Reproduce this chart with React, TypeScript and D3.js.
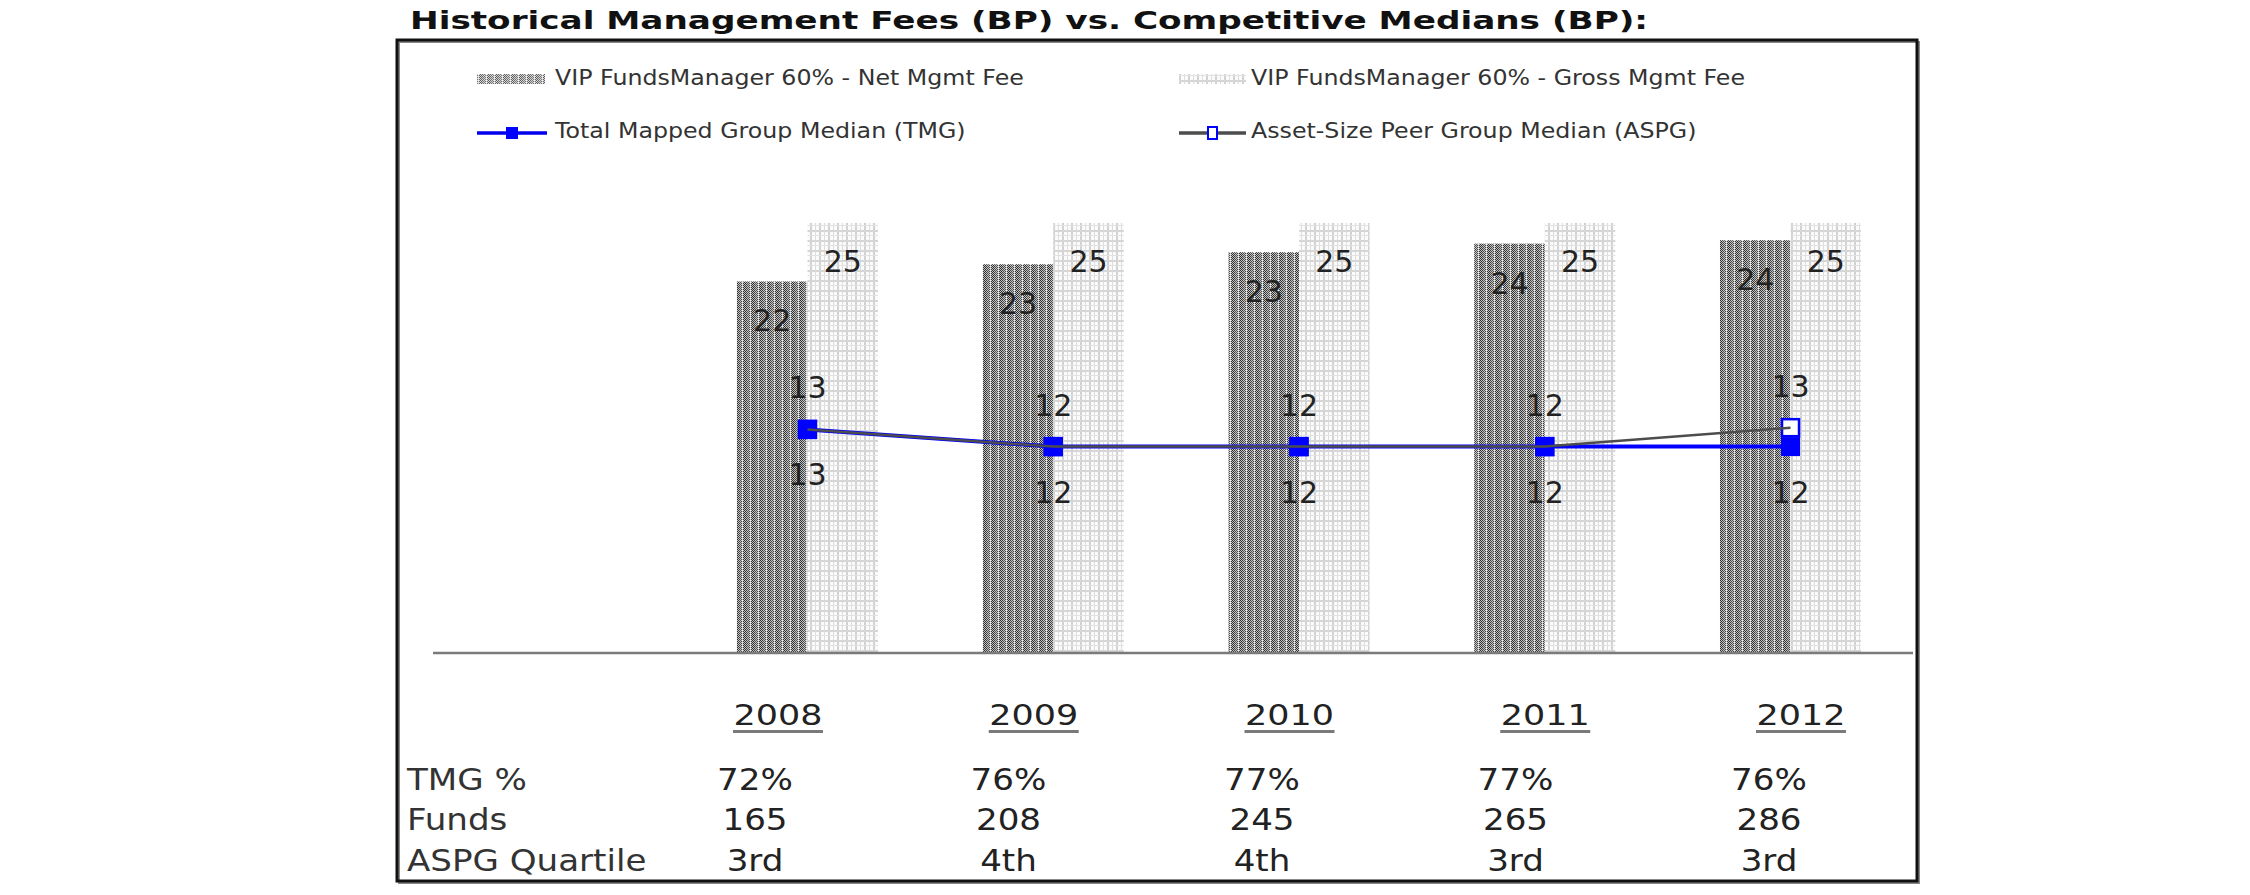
import React from "react";
import * as d3 from "d3";

// ---------- data ----------
const years = ["2008", "2009", "2010", "2011", "2012"];
const netMgmtFee = [21.6, 22.6, 23.3, 23.8, 24.0];
const grossMgmtFee = [25, 25, 25, 25, 25];
const tmgMedian = [13.0, 12.0, 12.0, 12.0, 12.0];
const aspgMedian = [13.0, 12.0, 12.0, 12.0, 13.1];
const tmgPct = ["72%", "76%", "77%", "77%", "76%"];
const fundCounts = ["165", "208", "245", "265", "286"];
const aspgQuartile = ["3rd", "4th", "4th", "3rd", "3rd"];
const tableRowLabels = ["TMG %", "Funds", "ASPG Quartile"];
const legendLabels = [
  "VIP FundsManager 60% - Net Mgmt Fee",
  "VIP FundsManager 60% - Gross Mgmt Fee",
  "Total Mapped Group Median (TMG)",
  "Asset-Size Peer Group Median (ASPG)",
];
const title = "Historical Management Fees (BP) vs. Competitive Medians (BP):";

const FONT = "'DejaVu Sans', Verdana, sans-serif";

type TxtProps = {
  x: number;
  y: number;
  sx?: number;
  size: number;
  anchor?: "start" | "middle" | "end";
  fill?: string;
  weight?: string | number;
  children: React.ReactNode;
};
const Txt = ({ x, y, sx = 1, size, anchor = "start", fill = "#222", weight = "normal", children }: TxtProps) => (
  <text
    transform={`translate(${x},${y}) scale(${sx},1)`}
    fontFamily={FONT}
    fontSize={size}
    textAnchor={anchor}
    fill={fill}
    fontWeight={weight}
  >
    {children}
  </text>
);

export default function App() {
  const W = 2250;
  const H = 895;

  const x = d3
    .scaleBand<string>()
    .domain(years)
    .range([684.6, 1913.4])
    .paddingInner(0.426)
    .paddingOuter(0.213);
  const xs = d3.scaleBand<string>().domain(["net", "gross"]).range([0, x.bandwidth()]);
  const y = d3.scaleLinear().domain([0, 30]).range([653, 137]);
  const cx = (yr: string) => (x(yr) as number) + x.bandwidth() / 2;
  const colX = d3.scalePoint<string>().domain(years).range([755, 1769]);
  const yearX = d3.scalePoint<string>().domain(years).range([778, 1801]);

  const line = d3
    .line<number>()
    .x((_, i) => cx(years[i]))
    .y((d) => y(d));

  const tmgMarker = 19;
  const aspgMarker = 17;
  const tableRows = [tmgPct, fundCounts, aspgQuartile];
  const rowBaselines = [790, 830, 871];

  const legendCol = [477, 1179];
  const legendRow = [85, 138];

  return (
    <svg
      width={W}
      height={H}
      style={{ position: "absolute", left: 0, top: 0, background: "#fff" }}
    >
      <defs>
        <pattern id="netPat" patternUnits="userSpaceOnUse" width="8" height="2">
          <rect width="8" height="2" fill="#c4c4c4" />
          <rect x="0" y="0" width="1" height="1" fill="#2a2a2a" />
          <rect x="1" y="1" width="1" height="1" fill="#2a2a2a" />
          <rect x="2" y="0" width="1" height="1" fill="#3a3a3a" />
          <rect x="3" y="1" width="1" height="1" fill="#444" />
          <rect x="4" y="0" width="1" height="1" fill="#555" />
          <rect x="5" y="1" width="1" height="1" fill="#4a4a4a" />
          <rect x="6" y="0" width="1" height="1" fill="#f0f0f0" />
          <rect x="7" y="1" width="1" height="1" fill="#333" />
        </pattern>
        <pattern id="grossPat" patternUnits="userSpaceOnUse" width="9" height="10">
          <rect width="9" height="10" fill="#fbfbfb" />
          <rect x="0" y="0" width="2" height="10" fill="#d2d2d2" />
          <rect x="5" y="0" width="1" height="10" fill="#dedede" />
          <rect x="0" y="0" width="9" height="2" fill="#d6d6d6" />
          <rect x="0" y="5" width="9" height="1" fill="#e2e2e2" />
        </pattern>
      </defs>

      {/* title */}
      <Txt x={410} y={29} size={25} sx={1.37} weight="bold" fill="#111">
        {title}
      </Txt>

      {/* frame */}
      <rect x={399} y={42} width={1520} height={841} fill="none" stroke="#888" strokeWidth={2} />
      <rect x={397} y={40} width={1520} height={841} fill="none" stroke="#111" strokeWidth={3} />

      {/* legend */}
      <rect x={legendCol[0]} y={legendRow[0] - 11} width={68} height={10} fill="url(#netPat)" opacity={0.75} />
      <Txt x={legendCol[0] + 78} y={legendRow[0]} size={21} sx={1.13} fill="#333">
        {legendLabels[0]}
      </Txt>
      <rect x={legendCol[1]} y={legendRow[0] - 11} width={67} height={10} fill="url(#grossPat)" />
      <Txt x={legendCol[1] + 72} y={legendRow[0]} size={21} sx={1.13} fill="#333">
        {legendLabels[1]}
      </Txt>
      <line x1={legendCol[0]} x2={legendCol[0] + 70} y1={legendRow[1] - 5} y2={legendRow[1] - 5} stroke="#0000ee" strokeWidth={3.5} />
      <rect x={legendCol[0] + 29} y={legendRow[1] - 11} width={12} height={12} fill="#0000ff" />
      <Txt x={legendCol[0] + 78} y={legendRow[1]} size={21} sx={1.13} fill="#333">
        {legendLabels[2]}
      </Txt>
      <line x1={legendCol[1]} x2={legendCol[1] + 67} y1={legendRow[1] - 5} y2={legendRow[1] - 5} stroke="#4d4d4d" strokeWidth={3.5} />
      <rect x={legendCol[1] + 29} y={legendRow[1] - 11} width={9} height={12} fill="#fff" stroke="#0000ff" strokeWidth={2} />
      <Txt x={legendCol[1] + 72} y={legendRow[1]} size={21} sx={1.13} fill="#333">
        {legendLabels[3]}
      </Txt>

      {/* bars */}
      {years.map((yr, i) => (
        <g key={yr}>
          <rect
            x={(x(yr) as number) + (xs("net") as number)}
            y={y(netMgmtFee[i])}
            width={xs.bandwidth()}
            height={y(0) - y(netMgmtFee[i])}
            fill="url(#netPat)"
          />
          <rect
            x={(x(yr) as number) + (xs("gross") as number)}
            y={y(grossMgmtFee[i])}
            width={xs.bandwidth()}
            height={y(0) - y(grossMgmtFee[i])}
            fill="url(#grossPat)"
          />
        </g>
      ))}

      {/* baseline */}
      <line x1={433} x2={1913} y1={y(0)} y2={y(0)} stroke="#7a7a7a" strokeWidth={2.5} />

      {/* bar labels */}
      {years.map((yr, i) => (
        <g key={"bl" + yr}>
          <Txt
            x={(x(yr) as number) + (xs("net") as number) + xs.bandwidth() / 2}
            y={y(netMgmtFee[i]) + 50}
            size={30}
            anchor="middle"
          >
            {Math.round(netMgmtFee[i])}
          </Txt>
          <Txt
            x={(x(yr) as number) + (xs("gross") as number) + xs.bandwidth() / 2}
            y={y(grossMgmtFee[i]) + 49}
            size={30}
            anchor="middle"
          >
            {Math.round(grossMgmtFee[i])}
          </Txt>
        </g>
      ))}

      {/* lines and markers */}
      <path d={line(tmgMedian) as string} fill="none" stroke="#0000ff" strokeWidth={4} />
      {years.map((yr, i) => (
        <rect
          key={"am" + yr}
          x={cx(yr) - aspgMarker / 2}
          y={y(aspgMedian[i]) - aspgMarker / 2}
          width={aspgMarker}
          height={aspgMarker}
          fill="#fff"
          stroke="#0000ff"
          strokeWidth={2.5}
        />
      ))}
      {years.map((yr, i) => (
        <rect
          key={"tm" + yr}
          x={cx(yr) - tmgMarker / 2}
          y={y(tmgMedian[i]) - tmgMarker / 2}
          width={tmgMarker}
          height={tmgMarker}
          fill="#0000ff"
        />
      ))}
      <path d={line(aspgMedian) as string} fill="none" stroke="#4d4d4d" strokeWidth={2.5} />

      {/* line labels */}
      {years.map((yr, i) => (
        <g key={"ll" + yr}>
          <Txt x={cx(yr)} y={y(aspgMedian[i]) - 31} size={30} anchor="middle">
            {Math.round(aspgMedian[i])}
          </Txt>
          <Txt x={cx(yr)} y={y(tmgMedian[i]) + 56} size={30} anchor="middle">
            {Math.round(tmgMedian[i])}
          </Txt>
        </g>
      ))}

      {/* year headers */}
      {years.map((yr) => (
        <g key={"yh" + yr}>
          <Txt x={yearX(yr) as number} y={725} size={27.5} sx={1.27} anchor="middle" fill="#222">
            {yr}
          </Txt>
          <line
            x1={(yearX(yr) as number) - 45}
            x2={(yearX(yr) as number) + 45}
            y1={731.5}
            y2={731.5}
            stroke="#7a7a7a"
            strokeWidth={3}
          />
        </g>
      ))}

      {/* table */}
      {tableRowLabels.map((lab, r) => (
        <g key={"row" + lab}>
          <Txt x={407} y={rowBaselines[r]} size={31} sx={1.1} fill="#333">
            {lab}
          </Txt>
          {years.map((yr, i) => (
            <Txt key={yr} x={colX(yr) as number} y={rowBaselines[r]} size={31} sx={1.1} anchor="middle" fill="#222">
              {tableRows[r][i]}
            </Txt>
          ))}
        </g>
      ))}
    </svg>
  );
}
